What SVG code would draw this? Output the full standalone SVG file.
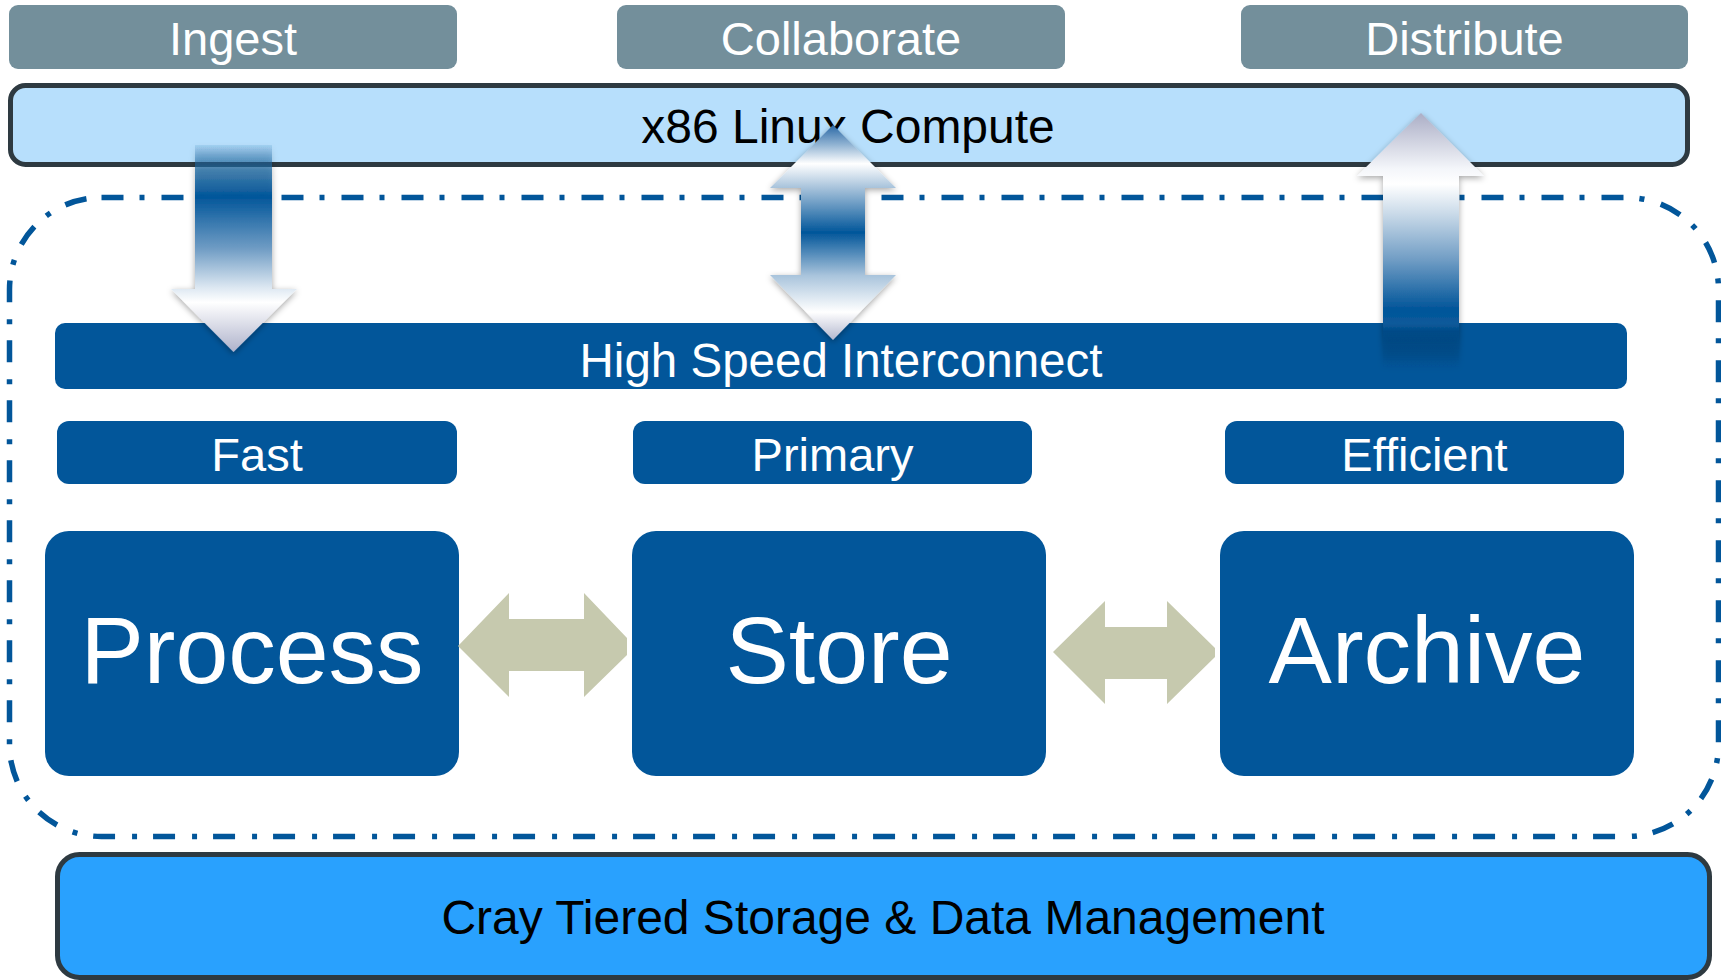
<svg xmlns="http://www.w3.org/2000/svg" width="1721" height="980" viewBox="0 0 1721 980">
  <style>
    .lbl { font-family: "Liberation Sans", Arial, sans-serif; text-anchor: middle; }
    .tab { fill: #738f9b; }
    .tab-text { fill: #ffffff; font-size: 47px; }
    .blue { fill: #02569a; }
    .white-text { fill: #ffffff; }
    .tier-text { font-size: 47px; }
    .big-text { font-size: 95px; }
    .dark-text { fill: #000000; font-size: 48px; }
    .bar-edge { stroke: #2e3a41; stroke-width: 5; }
    .boundary { fill: none; stroke: #02569a; stroke-width: 5.5; stroke-dasharray: 22 16 5 17; }
    .swap { fill: #c6c9ae; }
  </style>
  <defs>
    <filter id="soft-shadow" x="-30%" y="-10%" width="160%" height="120%">
      <feDropShadow dx="0" dy="2" stdDeviation="3" flood-color="#000000" flood-opacity="0.35"/>
    </filter>
    <linearGradient id="grad-down" gradientUnits="userSpaceOnUse" x1="0" y1="145" x2="0" y2="352">
      <stop offset="0" stop-color="#1a63a0" stop-opacity="0.1"/>
      <stop offset="0.12" stop-color="#1d679f" stop-opacity="0.75"/>
      <stop offset="0.25" stop-color="#02569a"/>
      <stop offset="0.5" stop-color="#6f9cc4"/>
      <stop offset="0.69" stop-color="#dde8f2"/>
      <stop offset="0.76" stop-color="#ffffff"/>
      <stop offset="1" stop-color="#aeb2cb"/>
    </linearGradient>
    <linearGradient id="grad-both" gradientUnits="userSpaceOnUse" x1="0" y1="125" x2="0" y2="340">
      <stop offset="0" stop-color="#2a68a5"/>
      <stop offset="0.09" stop-color="#8fb2d2"/>
      <stop offset="0.18" stop-color="#ffffff"/>
      <stop offset="0.29" stop-color="#a9c4dc"/>
      <stop offset="0.5" stop-color="#02569a"/>
      <stop offset="0.7" stop-color="#a9c4dc"/>
      <stop offset="0.87" stop-color="#ffffff"/>
      <stop offset="1" stop-color="#b3b7ce"/>
    </linearGradient>
    <linearGradient id="grad-up" gradientUnits="userSpaceOnUse" x1="0" y1="113" x2="0" y2="367">
      <stop offset="0" stop-color="#abaec6"/>
      <stop offset="0.22" stop-color="#f4f6fa"/>
      <stop offset="0.28" stop-color="#ffffff"/>
      <stop offset="0.4" stop-color="#c8d9e8"/>
      <stop offset="0.58" stop-color="#6f9cc4"/>
      <stop offset="0.77" stop-color="#02569a"/>
      <stop offset="0.83" stop-color="#0a5a9a"/>
      <stop offset="0.86" stop-color="#024a87"/>
      <stop offset="1" stop-color="#02467f" stop-opacity="0"/>
    </linearGradient>
  </defs>

  <rect width="1721" height="980" fill="#ffffff"/>

  <!-- workflow tabs -->
  <g id="tab-ingest">
    <rect class="tab" x="9" y="5" width="448" height="64" rx="9"/>
    <text class="lbl tab-text" x="233" y="55">Ingest</text>
  </g>
  <g id="tab-collaborate">
    <rect class="tab" x="617" y="5" width="448" height="64" rx="9"/>
    <text class="lbl tab-text" x="841" y="55">Collaborate</text>
  </g>
  <g id="tab-distribute">
    <rect class="tab" x="1241" y="5" width="447" height="64" rx="9"/>
    <text class="lbl tab-text" x="1464.5" y="55">Distribute</text>
  </g>

  <!-- compute layer -->
  <g id="bar-compute">
    <rect class="bar-edge" x="10.5" y="85.5" width="1677" height="79" rx="15" fill="#b7dffc"/>
    <text class="lbl dark-text" x="848" y="143">x86 Linux Compute</text>
  </g>

  <!-- storage system boundary -->
  <g id="boundary">
    <rect class="boundary" x="9.5" y="197.5" width="1709" height="639" rx="92"/>
  </g>

  <g id="bar-interconnect">
    <rect class="blue" x="55" y="323" width="1572" height="66" rx="10"/>
    <text class="lbl white-text" x="841" y="377" font-size="47.5">High Speed Interconnect</text>
  </g>

  <!-- tier labels -->
  <g id="tier-fast">
    <rect class="blue" x="57" y="421" width="400" height="63" rx="12"/>
    <text class="lbl white-text tier-text" x="257" y="471">Fast</text>
  </g>
  <g id="tier-primary">
    <rect class="blue" x="633" y="421" width="399" height="63" rx="12"/>
    <text class="lbl white-text tier-text" x="832.5" y="471">Primary</text>
  </g>
  <g id="tier-efficient">
    <rect class="blue" x="1225" y="421" width="399" height="63" rx="12"/>
    <text class="lbl white-text tier-text" x="1424.5" y="471">Efficient</text>
  </g>

  <!-- tiers -->
  <g id="node-process">
    <rect class="blue" x="45" y="531" width="414" height="245" rx="24"/>
    <text class="lbl white-text big-text" x="252" y="683">Process</text>
  </g>
  <g id="node-store">
    <rect class="blue" x="632" y="531" width="414" height="245" rx="24"/>
    <text class="lbl white-text big-text" x="839" y="683">Store</text>
  </g>
  <g id="node-archive">
    <rect class="blue" x="1220" y="531" width="414" height="245" rx="24"/>
    <text class="lbl white-text big-text" x="1427" y="683">Archive</text>
  </g>

  <!-- data management layer -->
  <g id="bar-storage">
    <rect class="bar-edge" x="57.5" y="854.5" width="1652" height="123" rx="22" fill="#29a1fe"/>
    <text class="lbl dark-text" x="883" y="934">Cray Tiered Storage &amp; Data Management</text>
  </g>

  <!-- data flows -->
  <g id="connectors">
    <polygon filter="url(#soft-shadow)" fill="url(#grad-down)"
      points="195,145 272,145 272,289 297,289 233.5,352 171,289 195,289"/>
    <polygon filter="url(#soft-shadow)" fill="url(#grad-both)"
      points="833,125 896,188 865,188 865,275 896,275 833,340 770,275 801,275 801,188 770,188"/>
    <polygon filter="url(#soft-shadow)" fill="url(#grad-up)"
      points="1421,113 1484,176 1459,176 1459,367 1383,367 1383,176 1357,176"/>
    <polygon class="swap"
      points="458,646 509,593 509,619 584,619 584,593 627,638 627,655 584,697 584,671 509,671 509,697"/>
    <polygon class="swap"
      points="1053,652 1105,601 1105,627 1167,627 1167,601 1215,648 1215,657 1167,704 1167,679 1105,679 1105,704"/>
  </g>
</svg>
